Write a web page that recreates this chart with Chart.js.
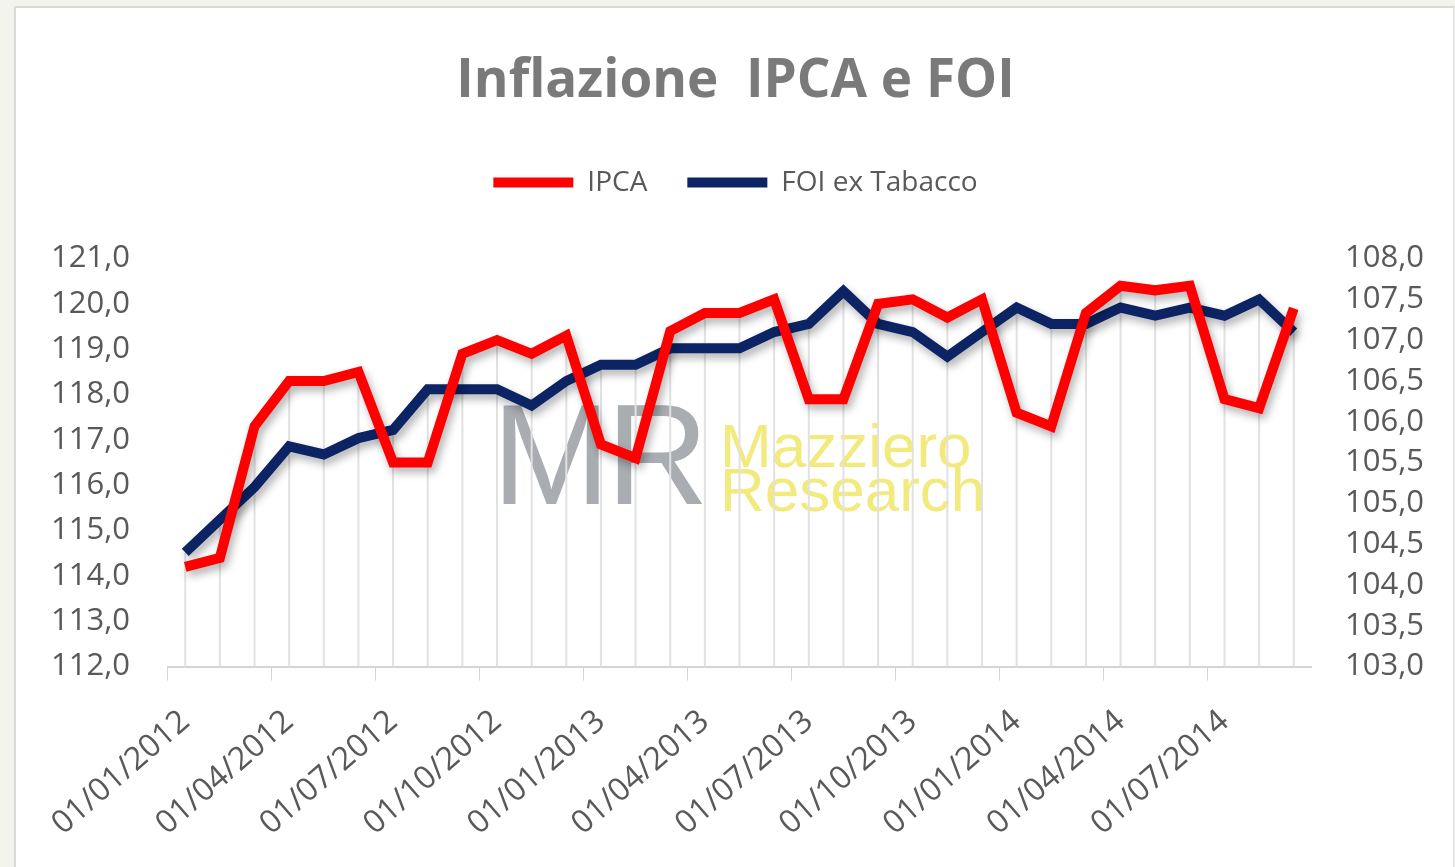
<!doctype html>
<html>
<head>
<meta charset="UTF-8">
<title>Inflazione IPCA e FOI</title>
<style>
html,body{margin:0;padding:0;background:#f3f4ec;}
#box{position:absolute;left:14px;top:6px;width:1437px;height:861px;background:#fff;border-left:2px solid #dadada;border-top:2px solid #dadada;border-right:2px solid #e4e4e4;}
#wm{position:absolute;left:0;top:0;width:100%;height:100%;}
#mr{position:absolute;left:476px;top:377px;font-family:"Liberation Sans",Arial,sans-serif;font-size:142px;color:#a9adb1;letter-spacing:-4px;line-height:140px;}
#mz{position:absolute;left:704px;top:416px;font-family:"Liberation Sans",Arial,sans-serif;font-size:62px;line-height:44px;color:#f3ea7e;}
canvas{position:absolute;left:0;top:0;}
</style>
</head>
<body>
<div id="box">
	<div id="wm"><div id="mr">MR</div><div id="mz">Mazziero<br>Research</div></div>
	<canvas id="myLineChart" width="1437" height="861"></canvas>
</div>
<script src="https://cdn.jsdelivr.net/npm/chart.js@4/dist/chart.umd.min.js"></script>
<script>
// mesi
var mesi = ["01/01/2012","01/02/2012","01/03/2012","01/04/2012","01/05/2012","01/06/2012","01/07/2012","01/08/2012","01/09/2012","01/10/2012","01/11/2012","01/12/2012",
	"01/01/2013","01/02/2013","01/03/2013","01/04/2013","01/05/2013","01/06/2013","01/07/2013","01/08/2013","01/09/2013","01/10/2013","01/11/2013","01/12/2013",
	"01/01/2014","01/02/2014","01/03/2014","01/04/2014","01/05/2014","01/06/2014","01/07/2014","01/08/2014","01/09/2014"];
var ipca = [114.2,114.4,117.3,118.3,118.3,118.5,116.5,116.5,118.9,119.2,118.9,119.3,
	116.9,116.6,119.4,119.8,119.8,120.1,117.9,117.9,120.0,120.1,119.7,120.1,
	117.6,117.3,119.8,120.4,120.3,120.4,117.9,117.7,119.9];
var foi = [104.4,104.8,105.2,105.7,105.6,105.8,105.9,106.4,106.4,106.4,106.2,106.5,
	106.7,106.7,106.9,106.9,106.9,107.1,107.2,107.6,107.2,107.1,106.8,107.1,
	107.4,107.2,107.2,107.4,107.3,107.4,107.3,107.5,107.1];

function virgola(v){ return Number(v).toFixed(1).replace(".", ","); }

var testo = "#595959";
var font = "'Open Sans', sans-serif";

// linee verticali dal punto piu alto fino all'asse + ombra delle linee
var dropLines = {
	id: "dropLines",
	beforeInit: function(chart){
		// spazio in piu sotto la legenda
		var fit = chart.legend.fit;
		chart.legend.fit = function(){
			fit.bind(chart.legend)();
			this.height += 52;
		};
	},
	beforeDatasetsDraw: function(chart){
		var ctx = chart.ctx, x = chart.scales.x, yl = chart.scales.y, yr = chart.scales.y1;
		var bottom = chart.chartArea.bottom;
		ctx.save();
		ctx.strokeStyle = "#e1e1e1";
		ctx.lineWidth = 2;
		for (var i=0; i<mesi.length; i++){
			var px = x.getPixelForValue(i);
			var top = Math.min(yl.getPixelForValue(ipca[i]), yr.getPixelForValue(foi[i]));
			ctx.beginPath();
			ctx.moveTo(px, top);
			ctx.lineTo(px, bottom);
			ctx.stroke();
		}
		ctx.restore();
	},
	beforeDatasetDraw: function(chart){
		var ctx = chart.ctx;
		ctx.save();
		ctx.shadowColor = "rgba(0,0,0,0.30)";
		ctx.shadowBlur = 8;
		ctx.shadowOffsetX = 3;
		ctx.shadowOffsetY = 5;
	},
	afterDatasetDraw: function(chart){
		chart.ctx.restore();
	}
};

var ctx = document.getElementById("myLineChart");
var myLineChart = new Chart(ctx, {
	type: "line",
	data: {
		labels: mesi,
		datasets: [
			{
				label: "IPCA",
				data: ipca,
				yAxisID: "y",
				borderColor: "#ff0000",
				backgroundColor: "#ff0000",
				borderWidth: 10,
				pointRadius: 0,
				tension: 0
			},
			{
				label: "FOI ex Tabacco",
				data: foi,
				yAxisID: "y1",
				borderColor: "#0c2364",
				backgroundColor: "#0c2364",
				borderWidth: 10,
				pointRadius: 0,
				tension: 0
			}
		]
	},
	options: {
		responsive: false,
		animation: false,
		layout: { padding: { left: 5, right: 3, top: 20, bottom: 4 } },
		plugins: {
			title: {
				display: true,
				text: "Inflazione  IPCA e FOI",
				color: "#7a7a7a",
				font: { family: font, size: 53, weight: "bold" },
				padding: { top: 22, bottom: 15 }
			},
			legend: {
				labels: {
					color: testo,
					font: { family: font, size: 28 },
					usePointStyle: true,
					pointStyle: "line",
					pointStyleWidth: 80,
					padding: 40
				}
			},
			tooltip: { enabled: false }
		},
		scales: {
			x: {
				offset: true,
				grid: {
					offset: true,
					drawOnChartArea: false,
					tickLength: 14,
					color: function(c){ return c.index % 3 === 0 ? "#d4d4d4" : "rgba(0,0,0,0)"; }
				},
				border: { color: "#d4d4d4", width: 2 },
				ticks: {
					autoSkip: false,
					maxRotation: 41,
					minRotation: 41,
					padding: 22,
					color: testo,
					font: { family: font, size: 32 },
					callback: function(v, i){ return i % 3 === 0 ? mesi[i] : ""; }
				}
			},
			y: {
				position: "left",
				min: 112, max: 121,
				grid: { display: false },
				border: { display: false },
				ticks: {
					stepSize: 1,
					autoSkip: false,
					color: testo,
					padding: 30,
					font: { family: font, size: 31 },
					callback: function(v){ return virgola(v); }
				}
			},
			y1: {
				position: "right",
				min: 103, max: 108,
				grid: { display: false },
				border: { display: false },
				ticks: {
					stepSize: 0.5,
					autoSkip: false,
					color: testo,
					padding: 26,
					font: { family: font, size: 31 },
					callback: function(v){ return virgola(v); }
				}
			}
		}
	},
	plugins: [dropLines]
});
</script>
</body>
</html>
